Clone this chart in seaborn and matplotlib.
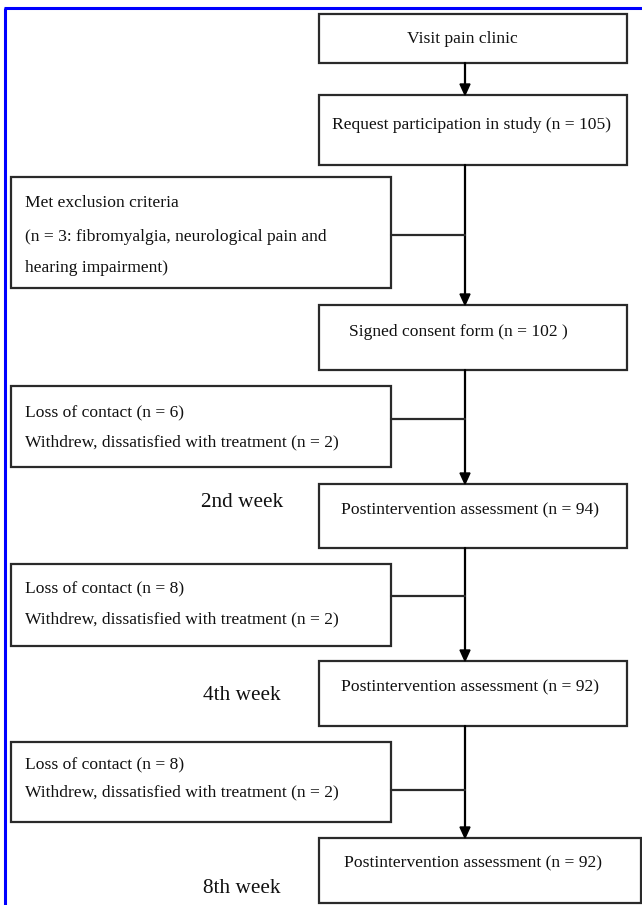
import matplotlib
matplotlib.use("Agg")
import matplotlib.pyplot as plt
from matplotlib.patches import Rectangle, Polygon
import seaborn as sns

# ---------------- data ----------------
main_steps = ["Visit pain clinic",
              "Request participation in study",
              "Signed consent form",
              "Postintervention assessment",
              "Postintervention assessment",
              "Postintervention assessment"]
main_n = [None, "105", "102 ", "94", "92", "92"]

exclusion_texts = [
    ["Met exclusion criteria",
     "(n = 3: fibromyalgia, neurological pain and",
     "hearing impairment)"],
    ["Loss of contact (n = 6)",
     "Withdrew, dissatisfied with treatment (n = 2)"],
    ["Loss of contact (n = 8)",
     "Withdrew, dissatisfied with treatment (n = 2)"],
    ["Loss of contact (n = 8)",
     "Withdrew, dissatisfied with treatment (n = 2)"],
]
week_labels = ["2nd week", "4th week", "8th week"]

# ---------------- layout (pixels) ----------------
main_box_x = [(319, 627)] * 5 + [(319, 641)]
main_box_y = [(14, 63), (95, 165), (305, 370), (484, 548), (661, 726), (838, 903)]
main_text_y = [39, 125, 332, 510, 687, 863]
main_text_x = [462, 472, 458, 470, 470, 473]

excl_box_x = (11, 391)
excl_box_y = [(177, 288), (386, 467), (564, 646), (742, 822)]
excl_line_y = [[203, 237, 268], [413, 442], [589, 619], [765, 792]]
excl_conn_y = [235, 419, 596, 790]
excl_text_x = 25

week_x = 242
week_y = [502, 695, 888]

spine_x = 465

sns.set_theme(style="white")
plt.rcParams["font.family"] = ["Liberation Serif", "DejaVu Serif"]

fig = plt.figure(figsize=(6.42, 9.05), dpi=100)
ax = fig.add_axes([0, 0, 1, 1])
ax.set_xlim(0, 642)
ax.set_ylim(905, 0)
ax.axis("off")

# blue frame
ax.plot([5, 5], [8, 905], color="#0000ff", lw=2.2, solid_capstyle="butt")
ax.plot([4, 642], [8, 8], color="#0000ff", lw=2.2, solid_capstyle="butt")

edge = "#2a2a2a"
body_fs = 12.6

# main boxes
for i, label in enumerate(main_steps):
    x0, x1 = main_box_x[i]
    y0, y1 = main_box_y[i]
    ax.add_patch(Rectangle((x0, y0), x1 - x0, y1 - y0, fill=False,
                           edgecolor=edge, lw=1.6))
    txt = label if main_n[i] is None else f"{label} (n = {main_n[i]})"
    ax.text(main_text_x[i], main_text_y[i], txt, ha="center", va="center",
            fontsize=body_fs, color="#111111")

# vertical connectors with arrows
for i in range(len(main_steps) - 1):
    ys = main_box_y[i][1]
    ye = main_box_y[i + 1][0]
    ax.plot([spine_x, spine_x], [ys, ye - 10], color="black", lw=1.6)
    ax.add_patch(Polygon([(spine_x - 5, ye - 11), (spine_x + 5, ye - 11),
                          (spine_x, ye)], closed=True, color="black"))

# exclusion boxes
for j, lines in enumerate(exclusion_texts):
    x0, x1 = excl_box_x
    y0, y1 = excl_box_y[j]
    ax.add_patch(Rectangle((x0, y0), x1 - x0, y1 - y0, fill=False,
                           edgecolor=edge, lw=1.6))
    for k, line in enumerate(lines):
        ax.text(excl_text_x, excl_line_y[j][k], line, ha="left", va="center",
                fontsize=body_fs, color="#111111")
    ax.plot([x1, spine_x], [excl_conn_y[j], excl_conn_y[j]], color=edge, lw=1.6)

# week labels
for w, y in zip(week_labels, week_y):
    ax.text(week_x, y, w, ha="center", va="center", fontsize=15.3,
            color="#111111")

fig.savefig("out.png", dpi=100, facecolor="white")
